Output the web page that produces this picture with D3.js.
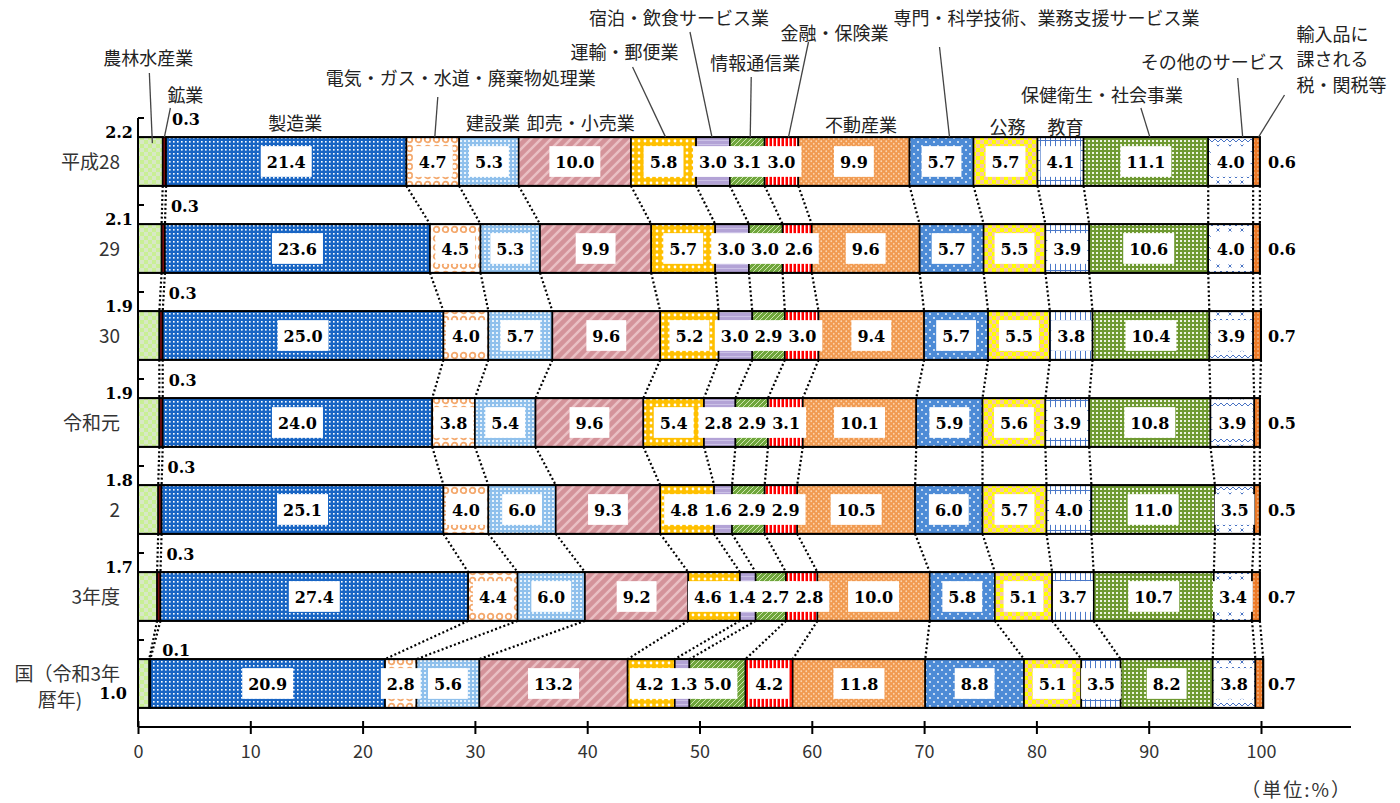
<!DOCTYPE html>
<html><head><meta charset="utf-8">
<script src="https://cdn.jsdelivr.net/npm/d3@7"></script>
<style>body{margin:0;background:#fff}</style>
</head><body><svg id="c" width="1400" height="803"></svg>
<script>
// ---------------- DATA ----------------
const industries = ["農林水産業","鉱業","製造業","電気・ガス・水道・廃棄物処理業","建設業","卸売・小売業","運輸・郵便業","宿泊・飲食サービス業","情報通信業","金融・保険業","不動産業","専門・科学技術、業務支援サービス業","公務","教育","保健衛生・社会事業","その他のサービス","輸入品に課される税・関税等"];
const rowKeys = ["平成28","29","30","令和元","2","3年度","国"];
const rowLabels = [["平成28"],["29"],["30"],["令和元"],["2"],["3年度"],["国（令和3年","暦年)"]];
const vH28 = [2.2,0.3,21.4,4.7,5.3,10.0,5.8,3.0,3.1,3.0,9.9,5.7,5.7,4.1,11.1,4.0,0.6];
const vH29 = [2.1,0.3,23.6,4.5,5.3,9.9,5.7,3.0,3.0,2.6,9.6,5.7,5.5,3.9,10.6,4.0,0.6];
const vH30 = [1.9,0.3,25.0,4.0,5.7,9.6,5.2,3.0,2.9,3.0,9.4,5.7,5.5,3.8,10.4,3.9,0.7];
const vR1  = [1.9,0.3,24.0,3.8,5.4,9.6,5.4,2.8,2.9,3.1,10.1,5.9,5.6,3.9,10.8,3.9,0.5];
const vR2  = [1.8,0.3,25.1,4.0,6.0,9.3,4.8,1.6,2.9,2.9,10.5,6.0,5.7,4.0,11.0,3.5,0.5];
const vR3  = [1.7,0.3,27.4,4.4,6.0,9.2,4.6,1.4,2.7,2.8,10.0,5.8,5.1,3.7,10.7,3.4,0.7];
const vKuni= [1.0,0.1,20.9,2.8,5.6,13.2,4.2,1.3,5.0,4.2,11.8,8.8,5.1,3.5,8.2,3.8,0.7];
const rowValues = [vH28,vH29,vH30,vR1,vR2,vR3,vKuni];
const xTicks = [0,10,20,30,40,50,60,70,80,90,100];
const unitLabel = "（単位:%）";

// ---------------- LAYOUT ----------------
const svg = d3.select("#c");
svg.append("rect").attr("width",1400).attr("height",803).attr("fill","#fff");
const x = d3.scaleLinear().domain([0,100]).range([138,1261]);
const y = d3.scaleBand().domain(rowKeys).range([118,727]).paddingInner(0.44).paddingOuter(0.22);
const bw = y.bandwidth();
const gap = (y.step()-bw)/2;

const JP = "'Noto Sans CJK JP','Noto Sans',sans-serif";
const NUM = "'DejaVu Serif',serif";
const NUMSIZE = 16;

// ---------------- PATTERNS ----------------
const defs = svg.append("defs");
function pat(id,w,h,bg,draw){
  const p = defs.append("pattern").attr("id",id).attr("patternUnits","userSpaceOnUse").attr("width",w).attr("height",h);
  p.append("rect").attr("width",w).attr("height",h).attr("fill",bg);
  if(draw) draw(p);
}
const R=(p,a,b,w,h,f)=>p.append("rect").attr("x",a).attr("y",b).attr("width",w).attr("height",h).attr("fill",f);
const C=(p,a,b,r,f)=>p.append("circle").attr("cx",a).attr("cy",b).attr("r",r).attr("fill",f);
const P=(p,d,s,w)=>p.append("path").attr("d",d).attr("stroke",s).attr("stroke-width",w).attr("fill","none");
pat("p0",8,8,"#c9ef95",p=>{R(p,0,0,4,4,"#d8e8c6");R(p,4,4,4,4,"#d8e8c6");});
pat("p1",4,4,"#7a0c0c");
pat("p2",4,4,"#1865c4",p=>{R(p,1,1,1.6,1.6,"#ffffff");});
pat("p3",9,9,"#ffffff",p=>{p.append("circle").attr("cx",4.5).attr("cy",4.5).attr("r",2.8).attr("fill","none").attr("stroke","#f4a86c").attr("stroke-width",1.8);});
pat("p4",4,4,"#8fc0ec",p=>{R(p,0,0,2,2,"#e8f3fc");});
pat("p5",10,10,"#d4939a",p=>{P(p,"M-3,3 l6,-6 M0,10 l10,-10 M7,13 l6,-6","#eabfc3",2.5);});
pat("p6",6,6,"#ffc000",p=>{C(p,3,3,1.4,"#ffffff");});
pat("p7",4,4,"#b3a3d6",p=>{R(p,0,0,4,1,"#cbc1e6");});
pat("p8",5,5,"#6fa63c",p=>{P(p,"M-1,1 l2,-2 M0,5 l5,-5 M4,6 l2,-2","#cfe5b0",1);});
pat("p9",4,4,"#ff0000",p=>{R(p,0,0,1.5,4,"#ffffff");});
pat("p10",5,5,"#f19a50",p=>{C(p,1.25,1.25,0.9,"#fcd4ae");C(p,3.75,3.75,0.9,"#fcd4ae");});
pat("p11",8,8,"#4d8bd6",p=>{C(p,2,2,0.9,"#ffffff");C(p,6,6,0.9,"#ffffff");});
pat("p12",8,8,"#ffff00",p=>{R(p,0,0,4,4,"#f7c8a4");R(p,4,4,4,4,"#f7c8a4");});
pat("p13",5,10,"#ffffff",p=>{P(p,"M0.5,0 v10 M0,0.5 h5","#4a78c8",1);});
pat("p14",4,4,"#6f9a32",p=>{R(p,0,0,2,2,"#eef4e2");});
pat("p15",12,12,"#ffffff",p=>{P(p,"M0,10 l3,-3 l3,3 l3,-3 l3,3","#4a74c4",1);P(p,"M4.5,0.5 l3,3 M7.5,0.5 l-3,3","#4a74c4",1);});
pat("p16",4,4,"#ec7a28",p=>{R(p,1.5,0,1,2,"#f7c9a6");});

// ---------------- AXES ----------------
svg.append("line").attr("x1",x(0)).attr("x2",x(0)).attr("y1",y.range()[0]).attr("y2",y.range()[1]).attr("stroke","#000").attr("stroke-width",2);
const bounds = rowKeys.map(k=>y(k)-gap);
svg.selectAll(".ytick").data(bounds).join("line").attr("x1",x(0)).attr("x2",x(0)+6).attr("y1",d=>d).attr("y2",d=>d).attr("stroke","#000").attr("stroke-width",2);

const xAxisY = y.range()[1];
svg.append("line").attr("x1",x(0)).attr("x2",1351).attr("y1",xAxisY).attr("y2",xAxisY).attr("stroke","#000").attr("stroke-width",2);
const ax = svg.append("g").attr("transform",`translate(0,${xAxisY})`)
  .call(d3.axisBottom(x).tickValues(xTicks).tickSizeOuter(0).tickSize(13).tickFormat(d3.format("d")));
ax.select(".domain").remove();
ax.selectAll(".tick line").attr("y1",-6).attr("y2",7).attr("stroke","#000").attr("stroke-width",2);
ax.selectAll(".tick text").attr("y",18).attr("font-family",JP).attr("font-size",18).attr("fill","#333");
svg.append("text").attr("x",1352).attr("y",797).attr("text-anchor","end").attr("font-family",JP).attr("font-size",19).attr("letter-spacing",2).attr("fill","#333").text(unitLabel);

rowKeys.forEach((k,i)=>{
  const cy = y(k)+bw/2;
  const lines = rowLabels[i];
  if(lines.length===1){
    svg.append("text").attr("x",120).attr("y",cy+7).attr("text-anchor","end").attr("font-family",JP).attr("font-size",19).attr("fill","#333").text(lines[0]);
  } else {
    svg.append("text").attr("x",120).attr("y",cy-3).attr("text-anchor","end").attr("font-family",JP).attr("font-size",19).attr("fill","#333").text(lines[0]);
    svg.append("text").attr("x",60).attr("y",cy+23).attr("text-anchor","middle").attr("font-family",JP).attr("font-size",19).attr("fill","#333").text(lines[1]);
  }
});

// ---------------- STACKS ----------------
const stacks = rowValues.map(vals=>{
  let c=0; return vals.map((v,j)=>{const s=c; c+=v; return {j,v,s,e:c};});
});

const conn = svg.append("g");
for(let i=0;i<rowKeys.length-1;i++){
  const y1 = y(rowKeys[i])+bw, y2 = y(rowKeys[i+1]);
  stacks[i].forEach((seg,j)=>{
    conn.append("line").attr("x1",x(seg.e)).attr("y1",y1).attr("x2",x(stacks[i+1][j].e)).attr("y2",y2)
      .attr("stroke","#000").attr("stroke-width",2.2).attr("stroke-dasharray","2,2.4");
  });
}

rowKeys.forEach((k,i)=>{
  const g = svg.append("g");
  const top = y(k);
  g.selectAll("rect.seg").data(stacks[i]).join("rect").attr("class","seg")
    .attr("x",d=>x(d.s)).attr("y",top).attr("width",d=>x(d.e)-x(d.s)).attr("height",bw)
    .attr("fill",d=>`url(#p${d.j})`).attr("stroke","#000").attr("stroke-width",1.6);
  g.append("rect").attr("x",x(0)).attr("y",top).attr("width",x(stacks[i][16].e)-x(0)).attr("height",bw)
    .attr("fill","none").attr("stroke","#000").attr("stroke-width",2);

  const inner = stacks[i].filter(d=>d.j>=2 && d.j<=15);
  const boxG = g.append("g"), txtG = g.append("g");
  const labs = inner.map(d=>{
    const t = txtG.append("text").attr("y",top+bw/2+6).attr("text-anchor","middle")
      .attr("font-family",NUM).attr("font-weight","bold").attr("font-size",NUMSIZE).attr("fill","#000").text(d.v.toFixed(1));
    return {t, cx:x((d.s+d.e)/2), w:t.node().getComputedTextLength()};
  });
  // resolve text collisions between neighbouring labels
  for(let it=0;it<80;it++){
    for(let n=0;n<labs.length-1;n++){
      const a=labs[n], b=labs[n+1];
      const need=(a.w+b.w)/2+6, have=b.cx-a.cx;
      if(have<need){const d=(need-have)/2; a.cx-=d; b.cx+=d;}
    }
  }
  labs.forEach(l=>{
    l.t.attr("x",l.cx);
    const w=l.w+12;
    boxG.append("rect").attr("x",l.cx-w/2).attr("y",top+9).attr("width",w).attr("height",bw-18).attr("fill","#fff");
  });

  const last = i===rowKeys.length-1;
  const a = stacks[i][0], m = stacks[i][1], tx = stacks[i][16];
  g.append("text").attr("x",last?127:133).attr("y",last?top+bw/2+15:top+1).attr("text-anchor","end")
    .attr("font-family",NUM).attr("font-weight","bold").attr("font-size",NUMSIZE).text(a.v.toFixed(1));
  g.append("text").attr("x",x(m.e)+(last?12:6)).attr("y",last?top-3:top-12).attr("text-anchor","start")
    .attr("font-family",NUM).attr("font-weight","bold").attr("font-size",NUMSIZE).text(m.v.toFixed(1));
  g.append("text").attr("x",x(100)+7).attr("y",top+bw/2+6).attr("text-anchor","start")
    .attr("font-family",NUM).attr("font-weight","bold").attr("font-size",NUMSIZE).text(tx.v.toFixed(1));
});

// ---------------- CATEGORY ANNOTATIONS (row 1) ----------------
const annot = [
  {lines:["農林水産業"], dx:-2, cy:58, lead:[2,-1,73]},
  {lines:["鉱業"], dx:21, cy:95, lead:[0,6,108]},
  {lines:["製造業"], dx:9, cy:123, lead:null},
  {lines:["電気・ガス・水道・廃棄物処理業"], dx:28, cy:78, lead:[2,5,97]},
  {lines:["建設業"], dx:4, cy:123, lead:null},
  {lines:["卸売・小売業"], dx:6, cy:123, lead:null},
  {lines:["運輸・郵便業"], dx:-39, cy:52, lead:[2,-31,67]},
  {lines:["宿泊・飲食サービス業"], dx:-34, cy:18, lead:[-1,-23,32]},
  {lines:["情報通信業"], dx:8, cy:63, lead:[3,4,77]},
  {lines:["金融・保険業"], dx:53, cy:33, lead:[7,27,42]},
  {lines:["不動産業"], dx:7, cy:125, lead:null},
  {lines:["専門・科学技術、業務支援サービス業"], dx:105, cy:18, lead:[8,-2,47]},
  {lines:["公務"], dx:2, cy:127, lead:null},
  {lines:["教育"], dx:5, cy:127, lead:null},
  {lines:["保健衛生・社会事業"], dx:-44, cy:95, lead:[4,-5,108]},
  {lines:["その他のサービス"], dx:-18, cy:62, lead:[12,7,78]},
  {lines:["輸入品に","課される","税・関税等"], dx:40, cy:34, lead:[2,28,95], start:true}
];
const top0 = y(rowKeys[0]);
annot.forEach((a,j)=>{
  const seg = stacks[0][j];
  const mx = x((seg.s+seg.e)/2);
  if(a.lead){
    svg.append("line").attr("x1",mx+a.lead[0]).attr("y1",top0+(j===0?6:0)).attr("x2",mx+a.lead[1]).attr("y2",a.lead[2])
      .attr("stroke","#444").attr("stroke-width",1.3);
  }
  a.lines.forEach((ln,n)=>{
    svg.append("text").attr("x",mx+a.dx).attr("y",a.cy+6.5+n*25.5).attr("text-anchor",a.start?"start":"middle")
      .attr("font-family",JP).attr("font-size",18).attr("fill","#222").text(ln);
  });
});
</script></body></html>
